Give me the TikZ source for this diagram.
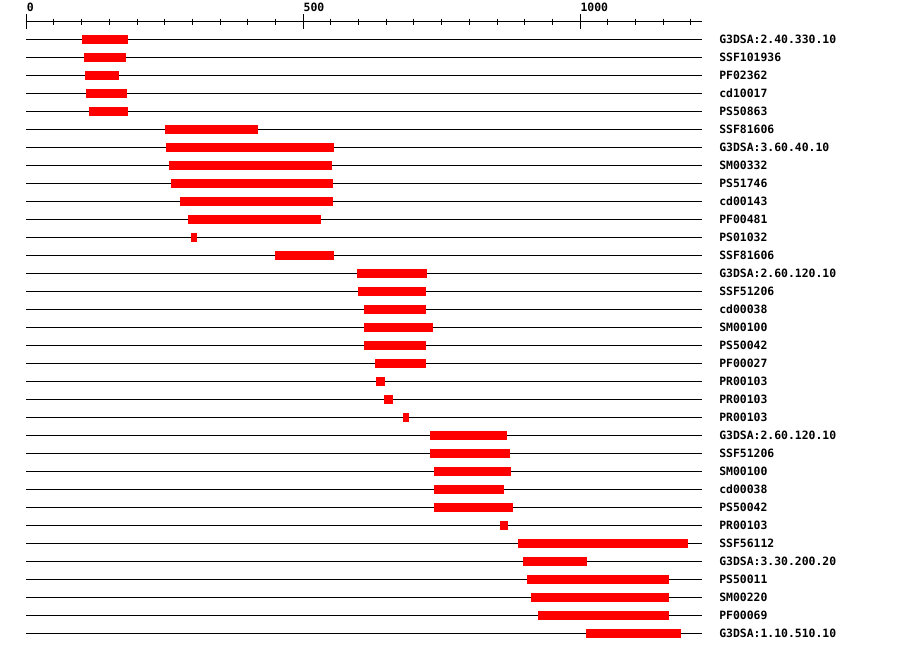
\documentclass[tikz,border=0pt]{standalone}
\usepackage{fontspec}
\newfontfamily\pxmono{DejaVu Sans Mono Bold}
\usetikzlibrary{positioning}

\tikzset{
  rowline/.style={line width=0.02cm, black},
  hitbar/.style={fill={rgb,255:red,255;green,0;blue,0}, draw=none},
  hitlabel/.style={anchor=base west, inner sep=0pt, font=\pxmono\fontsize{6.5pt}{7pt}\selectfont},
  ticklabel/.style={anchor=base west, inner sep=0pt, font=\pxmono\fontsize{6.5pt}{7pt}\selectfont}
}

\begin{document}
\begin{tikzpicture}[x=0.02cm, y=-0.02cm, line width=0.02cm]
  \useasboundingbox (0,0) rectangle (900,652);
  % ===== Escala (residuos) =====
  \begin{scope}[shift={(26.3,0)}, x=0.01108cm]
    \draw[rowline] (0,21.5) -- (1220,21.5);
    \foreach \t in {50,100,...,1200} \draw (\t,18.7) -- (\t,24.7);
    \foreach \t in {0,500,1000} {
      \draw (\t,14) -- (\t,28.7);
      \node[ticklabel] (tick\t) at (\t,12) {\t};
    }
  \end{scope}
  % ===== Dominios =====
  \begin{scope}[shift={(26.3,0)}, x=0.01108cm]
    \foreach \lab/\a/\b [count=\i] in {
      G3DSA:2.40.330.10/100/184, SSF101936/104/180, PF02362/106/167,
      cd10017/108/182, PS50863/113/184, SSF81606/250/418,
      G3DSA:3.60.40.10/252/555, SM00332/258/552, PS51746/261/554,
      cd00143/277/554, PF00481/292/532, PS01032/297/308,
      SSF81606/449/555, G3DSA:2.60.120.10/597/723, SSF51206/599/721,
      cd00038/610/721, SM00100/610/734, PS50042/610/721,
      PF00027/629/721, PR00103/631/647, PR00103/646/662,
      PR00103/680/691, G3DSA:2.60.120.10/729/868, SSF51206/729/873,
      SM00100/736/875, cd00038/736/862, PS50042/736/879,
      PR00103/855/869, SSF56112/888/1194, G3DSA:3.30.200.20/897/1012,
      PS50011/904/1160, SM00220/911/1160, PF00069/924/1160,
      G3DSA:1.10.510.10/1010/1182} {
      \pgfmathsetmacro{\ry}{21.5+18*\i}
      \draw[rowline] (0,\ry) -- (1220,\ry);
      \fill[hitbar] (\a,\ry-4.4) rectangle (\b,\ry+4.4);
      \node[hitlabel] (lab\i) at (1250.6,\ry+4) {\lab};
    }
  \end{scope}
\end{tikzpicture}
\end{document}
